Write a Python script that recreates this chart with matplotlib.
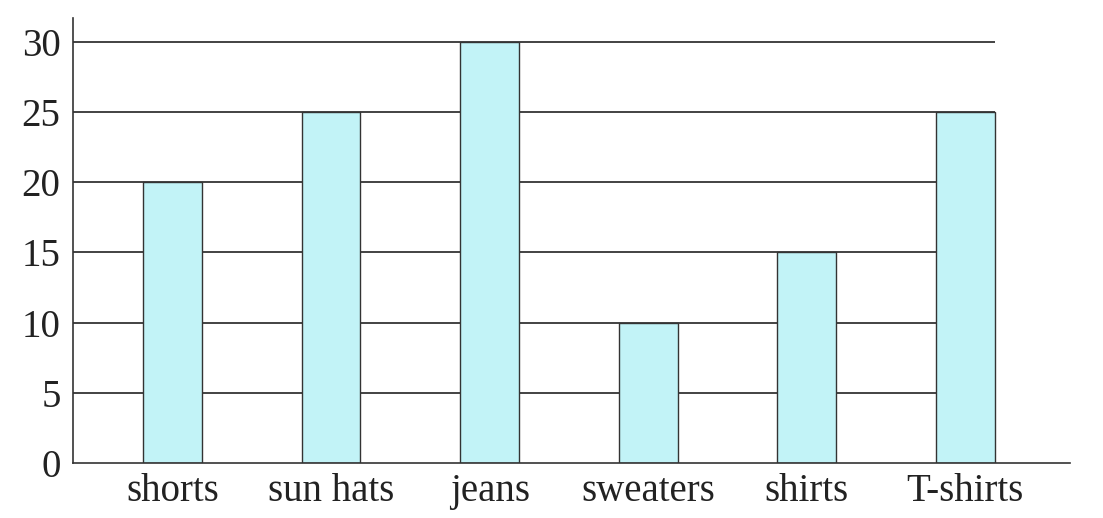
import matplotlib
matplotlib.use("Agg")
import matplotlib.pyplot as plt

categories = ["shorts", "sun hats", "jeans", "sweaters", "shirts", "T-shirts"]
counts = [20, 25, 30, 10, 15, 25]
y_ticks = [0, 5, 10, 15, 20, 25, 30]

plt.rcParams["font.family"] = ["Liberation Serif", "DejaVu Serif"]

fig = plt.figure(figsize=(11.03, 5.18), dpi=100)
ax = fig.add_axes([73 / 1103, 1 - 463 / 518, (1070 - 73) / 1103, (463 - 18) / 518])

x = list(range(len(categories)))
bar_w = 0.37
# gridlines stop at the right edge of the last bar
ax.hlines(y_ticks[1:], -0.627, x[-1] + bar_w / 2, colors="#222222", linewidth=1.2, zorder=1)
ax.bar(x, counts, width=bar_w, color="#c2f3f7", edgecolor="#333333", linewidth=1.0, zorder=2)

ax.set_xlim(-0.627, 5.66)
ax.set_ylim(0, 31.7)
ax.set_xticks(x)
ax.set_xticklabels(categories)
ax.set_yticks(y_ticks)
ax.tick_params(axis="both", length=0, labelsize=28, colors="#222222")
ax.tick_params(axis="y", pad=9)
ax.tick_params(axis="x", pad=7)

for side in ["top", "right"]:
    ax.spines[side].set_visible(False)
for side in ["left", "bottom"]:
    ax.spines[side].set_color("#333333")
    ax.spines[side].set_linewidth(1.2)

fig.savefig("out.png", dpi=100)
